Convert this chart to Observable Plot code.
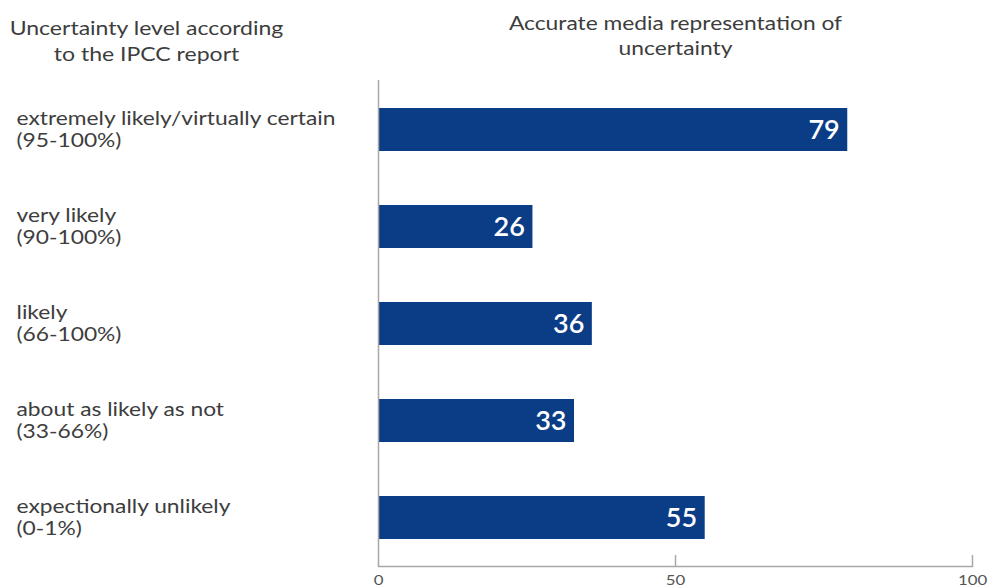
<!DOCTYPE html>
<html>
<head>
<meta charset="utf-8">
<script src="https://cdn.jsdelivr.net/npm/d3@7"></script>
<script src="https://cdn.jsdelivr.net/npm/@observablehq/plot@0.6"></script>
<style>
  html, body { margin: 0; padding: 0; background: #fff; }
  #chart { width: 989px; height: 587px; }
</style>
</head>
<body>
<div id="chart"></div>
<script>
const categories = [
  "extremely likely/virtually certain",
  "very likely",
  "likely",
  "about as likely as not",
  "expectionally unlikely"
];
const ranges = ["(95-100%)", "(90-100%)", "(66-100%)", "(33-66%)", "(0-1%)"];
const values = [79, 26, 36, 33, 55];
const xTicks = [0, 50, 100];
const leftTitle = "Uncertainty level according\nto the IPCC report";
const rightTitle = "Accurate media representation of\nuncertainty";

const data = categories.map((c, i) => ({cat: c, label: c + "\n" + ranges[i], value: values[i]}));

const textColor = "#3d3d3d";
const axisColor = "#a8a8a8";
const barColor = "#0b3d87";

const chart = Plot.plot({
  width: 989,
  height: 587,
  marginLeft: 378,
  marginRight: 17,
  marginTop: 80,
  marginBottom: 21,
  style: {fontFamily: "Lato, sans-serif", background: "#fff"},
  x: {domain: [0, 100]},
  y: {domain: categories, paddingInner: 0.56, paddingOuter: 0.275, axis: null},
  marks: [
    Plot.barX(data, {y: "cat", x: "value", fill: barColor}),
    Plot.text(data, {y: "cat", x: "value", text: d => String(d.value), textAnchor: "end", dx: -8, fill: "#fff", fontSize: 27, fontWeight: 600}),
    Plot.text(data, {ariaDescription: "stretch ylabels", y: "cat", text: "label", frameAnchor: "left", textAnchor: "start", lineAnchor: "middle", dx: -362, dy: -1, fontSize: 19, lineHeight: 1.18, fill: textColor}),
    Plot.ruleX([0], {stroke: axisColor, strokeWidth: 1.5}),
    Plot.frame({anchor: "bottom", stroke: axisColor, strokeWidth: 1.5}),
    Plot.tickX(xTicks.slice(1), {x: d => d, insetTop: 475, stroke: axisColor, strokeWidth: 1.5}),
    Plot.axisX(xTicks, {anchor: "bottom", tickSize: 0, tickPadding: 9, fontSize: 14, fill: "#555", label: null}),
    Plot.text([leftTitle], {ariaDescription: "stretch title left", frameAnchor: "top-left", lineAnchor: "middle", dx: -232, dy: -41, textAnchor: "middle", fontSize: 19.2, lineHeight: 1.35, fill: textColor}),
    Plot.text([rightTitle], {ariaDescription: "stretch title right", frameAnchor: "top", lineAnchor: "middle", dy: -46, textAnchor: "middle", fontSize: 19, lineHeight: 1.32, fill: textColor})
  ]
});

// the source typesetting is horizontally wider than plain Lato; widen glyphs around each anchor
d3.select(chart)
  .selectAll('g[aria-description^="stretch"] text, g[aria-label="x-axis tick label"] text')
  .each(function() {
    const t = this.getAttribute("transform") || "";
    this.setAttribute("transform", (t + " scale(1.2,1)").trim());
  });

document.getElementById("chart").appendChild(chart);
</script>
</body>
</html>
